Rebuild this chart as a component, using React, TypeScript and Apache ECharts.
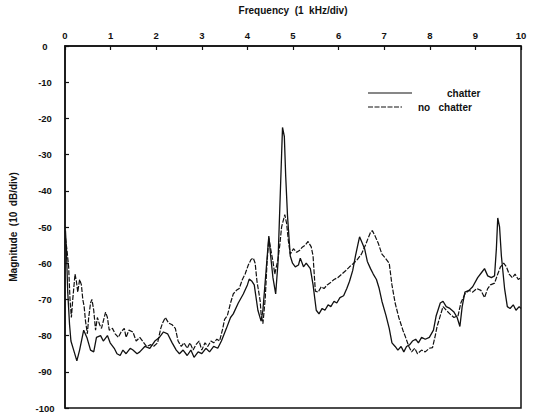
import React, { useEffect, useRef } from "react";
import * as echarts from "echarts";

const xTicks = [0, 1, 2, 3, 4, 5, 6, 7, 8, 9, 10];
const yTicks = [0, -10, -20, -30, -40, -50, -60, -70, -80, -90, -100];

// chatter: frequency (kHz) and magnitude (dB)
const chatterFreq = [0.01,0.03,0.06,0.10,0.13,0.19,0.26,0.32,0.41,0.48,0.56,0.63,0.69,0.78,0.84,0.93,0.99,1.08,1.14,1.21,1.27,1.34,1.43,1.49,1.58,1.64,1.75,1.86,1.97,2.07,2.16,2.25,2.35,2.44,2.51,2.59,2.68,2.76,2.83,2.92,3.00,3.09,3.17,3.26,3.35,3.43,3.54,3.63,3.69,3.80,3.91,4.00,4.04,4.10,4.15,4.23,4.30,4.34,4.41,4.47,4.51,4.56,4.62,4.67,4.71,4.75,4.77,4.81,4.84,4.88,4.94,4.99,5.05,5.12,5.16,5.23,5.29,5.38,5.44,5.51,5.57,5.64,5.70,5.77,5.83,5.90,5.96,6.03,6.11,6.18,6.24,6.31,6.37,6.42,6.46,6.52,6.57,6.63,6.70,6.76,6.83,6.89,6.95,7.04,7.11,7.17,7.24,7.30,7.37,7.43,7.49,7.56,7.62,7.69,7.75,7.82,7.90,7.99,8.08,8.14,8.23,8.29,8.36,8.44,8.53,8.60,8.66,8.71,8.77,8.86,8.94,9.05,9.14,9.20,9.27,9.35,9.42,9.46,9.49,9.53,9.57,9.64,9.70,9.76,9.83,9.89,9.96,10.0];
const chatterDb = [-51,-56,-68,-77,-81.5,-84,-87,-84,-78.5,-80.5,-84,-84.5,-80.5,-80,-81.5,-80,-82,-83.5,-85,-85.5,-84,-85,-83.5,-84,-85,-84.5,-83,-83.5,-81.5,-80.5,-79,-79.5,-82,-84,-85,-84,-85.5,-84,-86,-84.5,-85,-83.5,-84.5,-83,-83.5,-81.5,-78,-75,-74,-71,-68.5,-66,-64.4,-65,-66,-73,-76,-73,-62,-52.5,-58,-64,-68.5,-60,-45,-30,-22.5,-25,-36,-47,-58,-60,-61,-60.5,-58.6,-61,-60,-61.5,-66,-73,-74,-72.5,-73,-71.5,-72,-70.5,-71,-69.5,-69,-67,-65,-62,-58,-55,-52.7,-54.5,-56,-59.5,-61.5,-63,-64.5,-67,-70.5,-74.5,-78,-82,-83,-84,-83,-84.5,-83,-82.5,-81.5,-81,-82,-80.5,-81,-80.5,-78.5,-74.5,-71,-70.5,-72,-72.5,-73.5,-75,-77.5,-72,-68,-67.5,-66.5,-64,-62.5,-61.5,-63.5,-64,-63.5,-56,-47.5,-50,-58,-67,-72,-72.5,-71.5,-73,-72,-72.5];

// no chatter: frequency (kHz) and magnitude (dB)
const noChatterFreq = [0.01,0.04,0.08,0.11,0.14,0.17,0.22,0.25,0.28,0.32,0.36,0.39,0.42,0.45,0.49,0.52,0.56,0.59,0.63,0.67,0.71,0.76,0.80,0.84,0.89,0.93,0.97,1.04,1.10,1.17,1.23,1.30,1.34,1.40,1.49,1.56,1.64,1.73,1.79,1.88,1.94,2.03,2.10,2.14,2.20,2.27,2.35,2.42,2.48,2.55,2.61,2.68,2.74,2.81,2.87,2.94,3.00,3.07,3.13,3.20,3.26,3.33,3.39,3.46,3.50,3.56,3.63,3.69,3.76,3.82,3.89,3.95,4.02,4.08,4.13,4.17,4.21,4.28,4.30,4.34,4.39,4.43,4.47,4.51,4.56,4.60,4.67,4.71,4.75,4.82,4.86,4.90,4.94,5.01,5.08,5.14,5.21,5.27,5.33,5.40,5.44,5.49,5.55,5.62,5.68,5.75,5.81,5.90,5.98,6.07,6.16,6.24,6.33,6.41,6.50,6.59,6.65,6.70,6.74,6.80,6.87,6.95,7.02,7.11,7.17,7.24,7.32,7.41,7.47,7.54,7.60,7.67,7.73,7.82,7.90,7.99,8.06,8.12,8.16,8.23,8.29,8.36,8.44,8.53,8.62,8.68,8.77,8.86,8.94,9.03,9.12,9.20,9.27,9.33,9.42,9.49,9.55,9.62,9.68,9.74,9.81,9.87,9.94,10.0];
const noChatterDb = [-53,-56,-61,-70,-75,-70,-63,-65,-68,-64.5,-66,-70,-72,-76,-79.5,-75,-71,-70,-73,-78.5,-75,-77,-78,-76,-73.5,-75,-78.5,-78,-79.5,-80.5,-79,-78,-80.5,-78.5,-79,-81.5,-80.5,-82,-83,-82.5,-83,-82,-78,-76.5,-75,-76.5,-77,-78,-81.5,-83,-82,-83.5,-82,-84,-82.5,-81.5,-84,-82,-83,-81.5,-82,-81,-81.5,-78,-75.5,-74.5,-71,-68.5,-67.5,-67,-64.5,-63,-60.5,-59,-58.6,-60,-65,-70.4,-74,-76.7,-70,-60,-53,-56,-59.5,-63,-59,-55,-50,-46.6,-49,-54,-57.5,-56,-57,-56.5,-55.5,-55,-54,-55.5,-58,-67.7,-68,-66.5,-67,-66,-65.5,-64.5,-64,-63,-62,-61,-60,-59,-57.5,-55,-53,-51.5,-51,-52.5,-54.5,-57.5,-58.5,-60,-66,-71,-75,-78.5,-80.5,-83,-84.5,-83.5,-85,-84,-84.5,-83.5,-83.3,-80,-77.5,-74.5,-72,-73,-74,-75,-74.5,-71,-68.5,-67.5,-68,-67,-67.5,-69.5,-67,-66,-65.5,-63,-61,-60,-61,-63,-64,-63,-64.5,-64];

const seriesNames = ["chatter", "no  chatter"];

const pairs = (xs: number[], ys: number[]) => xs.map((x, i) => [x, ys[i]]);

export default function App() {
  const ref = useRef<HTMLDivElement>(null);
  useEffect(() => {
    if (!ref.current) return;
    const chart = echarts.init(ref.current, undefined, { renderer: "svg" });
    const font = "'Liberation Sans', Arial, sans-serif";
    const gl = 61, gt = 43, gw = 460, gh = 365;
    chart.setOption({
      animation: false,
      backgroundColor: "#fff",
      grid: { left: gl, top: gt, width: gw, height: gh, show: true, borderColor: "#111", borderWidth: 1.5, backgroundColor: "transparent" },
      xAxis: {
        type: "value",
        position: "top",
        min: xTicks[0],
        max: xTicks[xTicks.length - 1],
        interval: 1,
        name: "Frequency  (1  kHz/div)",
        nameLocation: "middle",
        nameGap: 31,
        nameTextStyle: { fontFamily: font, fontSize: 10, fontWeight: "bold", color: "#111" },
        axisLine: { show: true, lineStyle: { color: "#111", width: 1.5 } },
        axisTick: { show: true, inside: true, length: 4, lineStyle: { color: "#111", width: 1.2 } },
        axisLabel: { margin: 6, fontFamily: font, fontSize: 9.5, fontWeight: "bold", color: "#111" },
        splitLine: { show: false },
      },
      yAxis: {
        type: "value",
        min: yTicks[yTicks.length - 1],
        max: yTicks[0],
        interval: 10,
        name: "Magnitude  (10  dB/div)",
        nameLocation: "middle",
        nameGap: 47,
        nameRotate: 90,
        nameTextStyle: { fontFamily: font, fontSize: 10, fontWeight: "bold", color: "#111" },
        axisLine: { show: true, lineStyle: { color: "#111", width: 1.5 } },
        axisTick: { show: true, inside: true, length: 4, lineStyle: { color: "#111", width: 1.2 } },
        axisLabel: { margin: 20, align: "center", fontFamily: font, fontSize: 9.5, fontWeight: "bold", color: "#111" },
        splitLine: { show: false },
      },
      series: [
        {
          name: seriesNames[0],
          type: "line",
          data: pairs(chatterFreq, chatterDb),
          showSymbol: false,
          lineStyle: { color: "#111", width: 1.3 },
        },
        {
          name: seriesNames[1],
          type: "line",
          data: pairs(noChatterFreq, noChatterDb),
          showSymbol: false,
          lineStyle: { color: "#111", width: 1.2, type: [5, 1.5] },
        },
      ],
      graphic: [
        { type: "line", shape: { x1: 368, y1: 93, x2: 412, y2: 93 }, style: { stroke: "#111", lineWidth: 1.2 } },
        { type: "text", x: 447, y: 93, style: { text: "chatter", fontFamily: font, fontSize: 10, fontWeight: "bold", fill: "#111", textVerticalAlign: "middle", verticalAlign: "middle" } },
        { type: "line", shape: { x1: 368, y1: 107, x2: 402, y2: 107 }, style: { stroke: "#111", lineWidth: 1.1, lineDash: [5, 1.5] } },
        { type: "text", x: 418, y: 107, style: { text: "no   chatter", fontFamily: font, fontSize: 10, fontWeight: "bold", fill: "#111", textVerticalAlign: "middle", verticalAlign: "middle" } },
      ],
    });
    return () => chart.dispose();
  }, []);
  return <div ref={ref} style={{ position: "absolute", left: 0, top: 0, width: 533, height: 416 }} />;
}
